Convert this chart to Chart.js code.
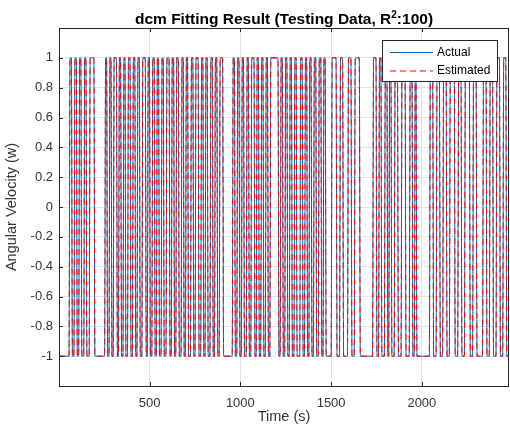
<!DOCTYPE html>
<html>
<head>
<meta charset="utf-8">
<script src="https://cdn.jsdelivr.net/npm/chart.js@4/dist/chart.umd.min.js"></script>
<style>
  html, body { margin: 0; padding: 0; background: #fff; }
  canvas { display: block; }
</style>
</head>
<body>
<canvas id="chart" width="510" height="433"></canvas>
<script>
/* ---- data ---- */
const titleMain = "dcm Fitting Result (Testing Data, R";
const titleSup  = "2";
const titleTail = ":100)";
const xLabel = "Time (s)";
const yLabel = "Angular Velocity (w)";
const seriesNames = ["Actual", "Estimated"];

const xTicks = [500, 1000, 1500, 2000];
const yTicks = [-1, -0.8, -0.6, -0.4, -0.2, 0, 0.2, 0.4, 0.6, 0.8, 1];
const xRange = [1, 2480];
const yRange = [-1.2, 1.2];

const lowLevel  = -1;
const highLevel = 1;

// times (s) where the signal flips; it starts low
const actualSwitches = [
  59, 72, 86, 99, 112, 124, 140, 152, 170, 196,
  255, 266, 279, 290, 302, 320, 331, 343, 356, 367, 381, 395, 408, 421, 433, 446, 460, 479, 490, 502,
  515, 528, 540, 552, 566, 578, 593, 610, 622, 635, 647, 661, 676, 688, 700, 712, 728, 741, 753, 770,
  784, 796, 808, 820, 835, 848, 860, 873, 886, 905,
  958, 970, 983, 995, 1008, 1020, 1035, 1047, 1060, 1078, 1090, 1102, 1115, 1127, 1140, 1152,
  1165, 1210,
  1222, 1234, 1247, 1259, 1272, 1284, 1298, 1310, 1330, 1343, 1356, 1368, 1380, 1392, 1405, 1418,
  1432, 1446, 1458, 1470,
  1503, 1530, 1549, 1566, 1593, 1612, 1630, 1658,
  1731, 1750, 1764, 1777, 1796, 1810, 1820, 1832, 1850, 1868,
  1888, 1910, 1933, 1948, 1961, 1970,
  2044, 2062, 2081, 2099, 2117, 2136, 2154, 2181, 2200, 2218, 2237, 2264, 2282, 2301,
  2337, 2356, 2374, 2392, 2411, 2430, 2448, 2465
];
// fit is R^2 = 100: the estimate flips at the same instants
const estimatedSwitches = actualSwitches.slice();

/* ---- helpers ---- */
const FONT = "'Liberation Sans', Arial, Helvetica, sans-serif";
const TEXT = "#333333";
const AXIS = "#262626";

function stepPoints(switches) {
  let level = lowLevel;
  const pts = [{ x: xRange[0], y: level }];
  switches.forEach(t => {
    const next = level === lowLevel ? highLevel : lowLevel;
    pts.push({ x: t - 3, y: level }, { x: t + 3, y: next });
    level = next;
  });
  pts.push({ x: xRange[1], y: level });
  return pts;
}

// --- box, inward ticks, title and legend (MATLAB look) ---
const decor = {
  id: "decor",
  afterDraw(chart) {
    const { ctx, chartArea: a, scales } = chart;
    ctx.save();

    // axes box
    ctx.strokeStyle = AXIS;
    ctx.lineWidth = 1;
    ctx.strokeRect(Math.round(a.left) + 0.5, Math.round(a.top) + 0.5,
                   Math.round(a.right - a.left) - 1, Math.round(a.bottom - a.top));

    // inward tick marks
    ctx.beginPath();
    scales.x.ticks.forEach(t => {
      const px = Math.round(scales.x.getPixelForValue(t.value)) + 0.5;
      ctx.moveTo(px, a.bottom); ctx.lineTo(px, a.bottom - 4);
      ctx.moveTo(px, a.top);    ctx.lineTo(px, a.top + 4);
    });
    scales.y.ticks.forEach(t => {
      const py = Math.round(scales.y.getPixelForValue(t.value)) + 0.5;
      ctx.moveTo(a.left, py); ctx.lineTo(a.left + 4, py);
    });
    ctx.stroke();

    // title with superscript
    ctx.fillStyle = "#000";
    ctx.textBaseline = "alphabetic";
    ctx.font = "bold 15.5px " + FONT;
    const w1 = ctx.measureText(titleMain).width;
    const w3 = ctx.measureText(titleTail).width;
    ctx.font = "bold 10px " + FONT;
    const w2 = ctx.measureText(titleSup).width;
    let tx = (a.left + a.right) / 2 - (w1 + w2 + w3) / 2;
    const ty = 23.5;
    ctx.font = "bold 15.5px " + FONT;
    ctx.textAlign = "left";
    ctx.fillText(titleMain, tx, ty); tx += w1;
    ctx.font = "bold 10px " + FONT;
    ctx.fillText(titleSup, tx, ty - 6); tx += w2;
    ctx.font = "bold 15.5px " + FONT;
    ctx.fillText(titleTail, tx, ty);

    // legend
    const lx = 382.5, ly = 40.5, lw = 115, lh = 41;
    ctx.fillStyle = "#fff";
    ctx.fillRect(lx, ly, lw, lh);
    ctx.strokeStyle = AXIS;
    ctx.strokeRect(lx, ly, lw, lh);
    ctx.font = "12px " + FONT;
    ctx.textBaseline = "middle";
    chart.data.datasets.forEach((ds, i) => {
      const y = 52.5 + i * 18.5;
      ctx.strokeStyle = ds.borderColor;
      ctx.lineWidth = ds.borderWidth;
      ctx.setLineDash(ds.borderDash || []);
      ctx.beginPath();
      ctx.moveTo(390, y); ctx.lineTo(433, y);
      ctx.stroke();
      ctx.setLineDash([]);
      ctx.fillStyle = "#000";
      ctx.fillText(ds.label, 437, y);
    });

    ctx.restore();
  }
};

new Chart(document.getElementById("chart"), {
  type: "line",
  data: {
    datasets: [
      {
        label: seriesNames[0],
        data: stepPoints(actualSwitches),
        borderColor: "#0072BD",
        borderWidth: 1,
        pointRadius: 0,
        cubicInterpolationMode: "monotone",
        order: 1
      },
      {
        label: seriesNames[1],
        data: stepPoints(estimatedSwitches),
        borderColor: "#FF0000",
        borderWidth: 1,
        borderDash: [6, 4],
        pointRadius: 0,
        cubicInterpolationMode: "monotone",
        order: 0
      }
    ]
  },
  options: {
    responsive: false,
    animation: false,
    parsing: false,
    normalized: true,
    layout: { padding: { top: 28, right: 1, left: 0, bottom: 0 } },
    plugins: {
      legend: { display: false },
      title: { display: false },
      tooltip: { enabled: false }
    },
    scales: {
      x: {
        type: "linear",
        min: xRange[0],
        max: xRange[1],
        afterBuildTicks: s => { s.ticks = xTicks.map(v => ({ value: v })); },
        afterFit: s => { s.height = 47; },
        grid: { color: "#e4e4e4", drawTicks: false },
        border: { display: false },
        ticks: {
          color: TEXT, padding: 10, maxRotation: 0, autoSkip: false,
          font: { family: FONT, size: 13 },
          callback: v => String(v)
        },
        title: {
          display: true, text: xLabel, color: TEXT,
          font: { family: FONT, size: 14.5 }, padding: { top: 0, bottom: 7 }
        }
      },
      y: {
        min: yRange[0],
        max: yRange[1],
        afterBuildTicks: s => { s.ticks = yTicks.map(v => ({ value: v })); },
        afterFit: s => { s.width = 59; },
        grid: { color: "#e4e4e4", drawTicks: false },
        border: { display: false },
        ticks: {
          color: TEXT, padding: 6, autoSkip: false,
          font: { family: FONT, size: 13 },
          callback: v => String(Math.round(v * 10) / 10)
        },
        title: {
          display: true, text: yLabel, color: TEXT,
          font: { family: FONT, size: 14.5 }, padding: { top: 3, bottom: 0 }
        }
      }
    }
  },
  plugins: [decor]
});
</script>
</body>
</html>
